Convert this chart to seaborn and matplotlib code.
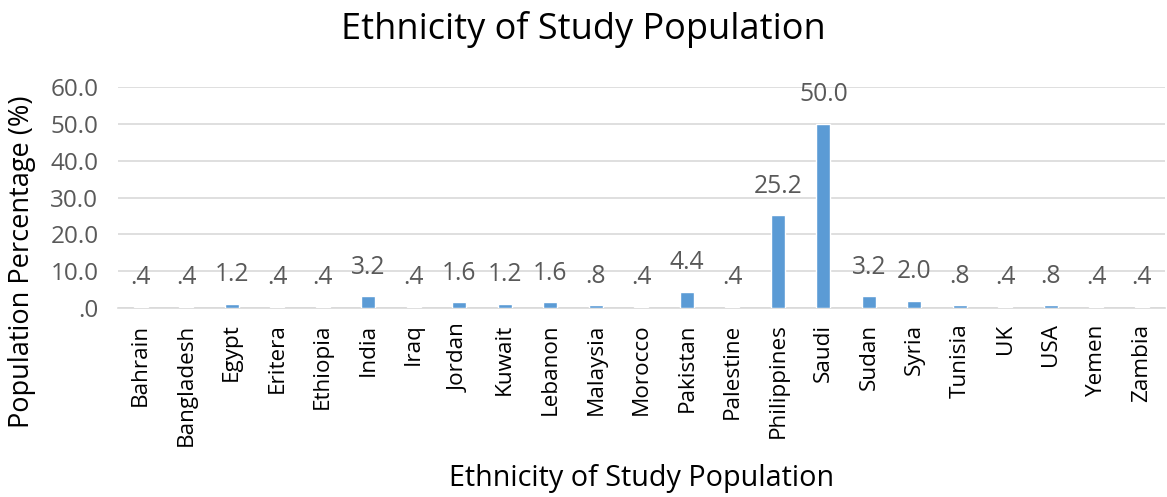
import matplotlib
matplotlib.use("Agg")
import matplotlib.pyplot as plt
from matplotlib.ticker import FuncFormatter
import seaborn as sns
import pandas as pd

countries = ["Bahrain", "Bangladesh", "Egypt", "Eritera", "Ethiopia", "India", "Iraq",
             "Jordan", "Kuwait", "Lebanon", "Malaysia", "Morocco", "Pakistan", "Palestine",
             "Philippines", "Saudi", "Sudan", "Syria", "Tunisia", "UK", "USA", "Yemen", "Zambia"]
percent = [0.4, 0.4, 1.2, 0.4, 0.4, 3.2, 0.4, 1.6, 1.2, 1.6, 0.8, 0.4, 4.4, 0.4,
           25.2, 50.0, 3.2, 2.0, 0.8, 0.4, 0.8, 0.4, 0.4]
y_ticks = [0, 10, 20, 30, 40, 50, 60]

df = pd.DataFrame({"country": countries, "percent": percent})

sns.set_style("white")
plt.rcParams["font.family"] = ["Open Sans", "DejaVu Sans"]


def fmt(v):
    s = f"{v:.1f}"
    return s[1:] if s.startswith("0") else s


fig = plt.figure(figsize=(11.67, 4.97), dpi=100)
ax = fig.add_axes([0.101, 0.380, 0.897, 0.445])

sns.barplot(data=df, x="country", y="percent", color="#5B9BD5", saturation=1,
            width=0.31, ax=ax, zorder=3)

ax.set_ylim(0, 60)
ax.set_xlim(-0.5, len(countries) - 0.5)
ax.set_yticks(y_ticks)
ax.yaxis.set_major_formatter(FuncFormatter(lambda v, _: fmt(v)))
ax.grid(axis="y", color="#D9D9D9", linewidth=1.2, zorder=0)
for side in ["left", "right", "top"]:
    ax.spines[side].set_visible(False)
ax.spines["bottom"].set_color("#D9D9D9")
ax.spines["bottom"].set_linewidth(1.2)
ax.tick_params(axis="both", length=0)
ax.tick_params(axis="y", labelsize=17.5, labelcolor="#595959", pad=14)
ax.tick_params(axis="x", pad=11)
ax.set_xticks(range(len(countries)), labels=countries, rotation=90,
              fontsize=16.2, color="#000000")

for i, v in enumerate(percent):
    ax.annotate(fmt(v), (i, v), xytext=(0, 12), textcoords="offset points",
                ha="center", va="bottom", fontsize=17.7, color="#595959")

ax.set_xlabel("Ethnicity of Study Population", fontsize=20.7, color="#000000", labelpad=13)
ax.set_ylabel("Population Percentage (%)", fontsize=19.5, color="#000000")
ax.yaxis.set_label_coords(-0.078, 0.208)
fig.suptitle("Ethnicity of Study Population", fontsize=26, color="#000000", y=0.977)

fig.savefig("out.png", dpi=100)
